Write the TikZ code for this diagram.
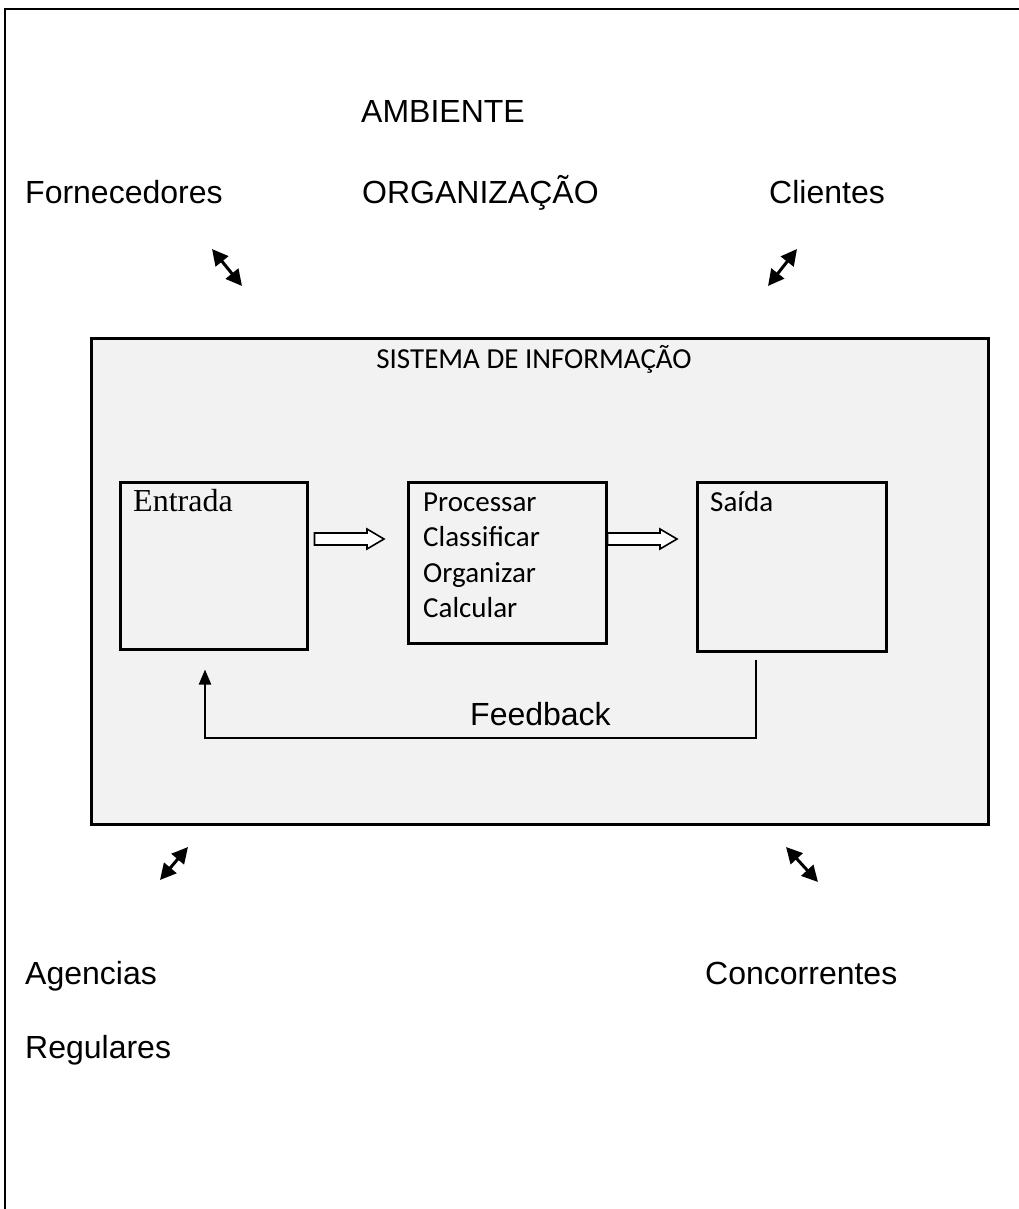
\documentclass[tikz,border=0pt]{standalone}
\usepackage{fontspec}
\setmainfont{Liberation Sans}
\newfontfamily\calfont{Carlito}
\newfontfamily\timesfont{Liberation Serif}
\usetikzlibrary{arrows.meta,calc}
\begin{document}
\begin{tikzpicture}[x=1pt,y=-1pt,
  big/.style={font=\fontsize{32}{38}\selectfont, inner sep=0pt},
  boxline/.style={draw=black, line width=2.5pt},
  inbox/.style={boxline, fill=sibg},
  dbl/.style={line width=3pt, {Triangle[length=16pt,width=16pt]}-{Triangle[length=16pt,width=16pt]}},
  hollow/.style={draw=black, line width=1.6pt, fill=white, line join=miter},
  fb/.style={line width=2.2pt}
]
\definecolor{sibg}{HTML}{F2F2F2}
\useasboundingbox (0,0) rectangle (1019,1209);
% outer frame (open to right and bottom)
\draw[line width=2.2pt] (5,1215) -- (5,9) -- (1025,9);

% environment labels
\node[big, anchor=base west] (amb) at (361,123) {AMBIENTE};
\node[big, anchor=base west] (org) at (362,204) {ORGANIZAÇÃO};
\node[big, anchor=base west] (forn) at (25,204) {Fornecedores};
\node[big, anchor=base west] (cli) at (769,204) {Clientes};
\node[big, anchor=base west] (ag) at (25,984) {Agencias};
\node[big, anchor=base west] (reg) at (25,1058) {Regulares};
\node[big, anchor=base west] (conc) at (705,984) {Concorrentes};

% double arrows
\coordinate (a1s) at (212,249); \coordinate (a1e) at (242,286);
\coordinate (a2s) at (768,286); \coordinate (a2e) at (797,249);
\coordinate (a3s) at (160,880); \coordinate (a3e) at (188,847);
\coordinate (a4s) at (786,847); \coordinate (a4e) at (818,882);
\draw[dbl] (a1s) -- (a1e);
\draw[dbl] (a2s) -- (a2e);
\draw[dbl] (a3s) -- (a3e);
\draw[dbl] (a4s) -- (a4e);

% system box
\node[inbox, minimum width=897pt, minimum height=486pt, anchor=north west, inner sep=0pt] (si) at (90,337) {};
\node[font=\calfont\fontsize{29}{34}\selectfont, inner sep=0pt] (sit) at (534,359) {SISTEMA DE INFORMAÇÃO};

% inner boxes
\node[boxline, minimum width=187pt, minimum height=167pt, anchor=north west, inner sep=0pt] (ent) at (119,481) {};
\node[boxline, minimum width=198pt, minimum height=161pt, anchor=north west, inner sep=0pt] (proc) at (407,481) {};
\node[boxline, minimum width=189pt, minimum height=169pt, anchor=north west, inner sep=0pt] (sai) at (696,481) {};

\node[font=\timesfont\fontsize{32}{38}\selectfont, inner sep=0pt, anchor=base west] (entt) at (133,511) {Entrada};
\node[font=\calfont\fontsize{29}{35.5}\selectfont, inner sep=0pt, anchor=north west, align=left] (proct) at (423,492.5) {Processar\\Classificar\\Organizar\\Calcular};
\node[font=\calfont\fontsize{29}{33.5}\selectfont, inner sep=0pt, anchor=base west] (sait) at (710,511) {Saída};

% hollow block arrows
\coordinate (h1) at ($(ent.north east)+(6,58)$);
\coordinate (h1t) at ($(proc.north west)+(-23,58)$);
\draw[hollow] ($(h1)+(0,-6)$) -- ($(h1t)+(-17,-6)$) -- ($(h1t)+(-17,-10)$) -- (h1t)
  -- ($(h1t)+(-17,10)$) -- ($(h1t)+(-17,6)$) -- ($(h1)+(0,6)$) -- cycle;
\coordinate (h2) at ($(proc.north east)+(0,58)$);
\coordinate (h2t) at ($(sai.north west)+(-19,58)$);
\draw[hollow] ($(h2)+(0,-6)$) -- ($(h2t)+(-17,-6)$) -- ($(h2t)+(-17,-10)$) -- (h2t)
  -- ($(h2t)+(-17,10)$) -- ($(h2t)+(-17,6)$) -- ($(h2)+(0,6)$) -- cycle;

% feedback loop
\coordinate (fbs) at ($(sai.south west)+(60,7)$);
\coordinate (fbe) at ($(ent.south west)+(86,19)$);
\draw[fb, -{Triangle[length=15pt,width=12pt]}] (fbs) -- (fbs |- 0,738) -- (fbe |- 0,738) -- (fbe);
\node[big, anchor=base west] (fbt) at (470,725) {Feedback};
\end{tikzpicture}
\end{document}
